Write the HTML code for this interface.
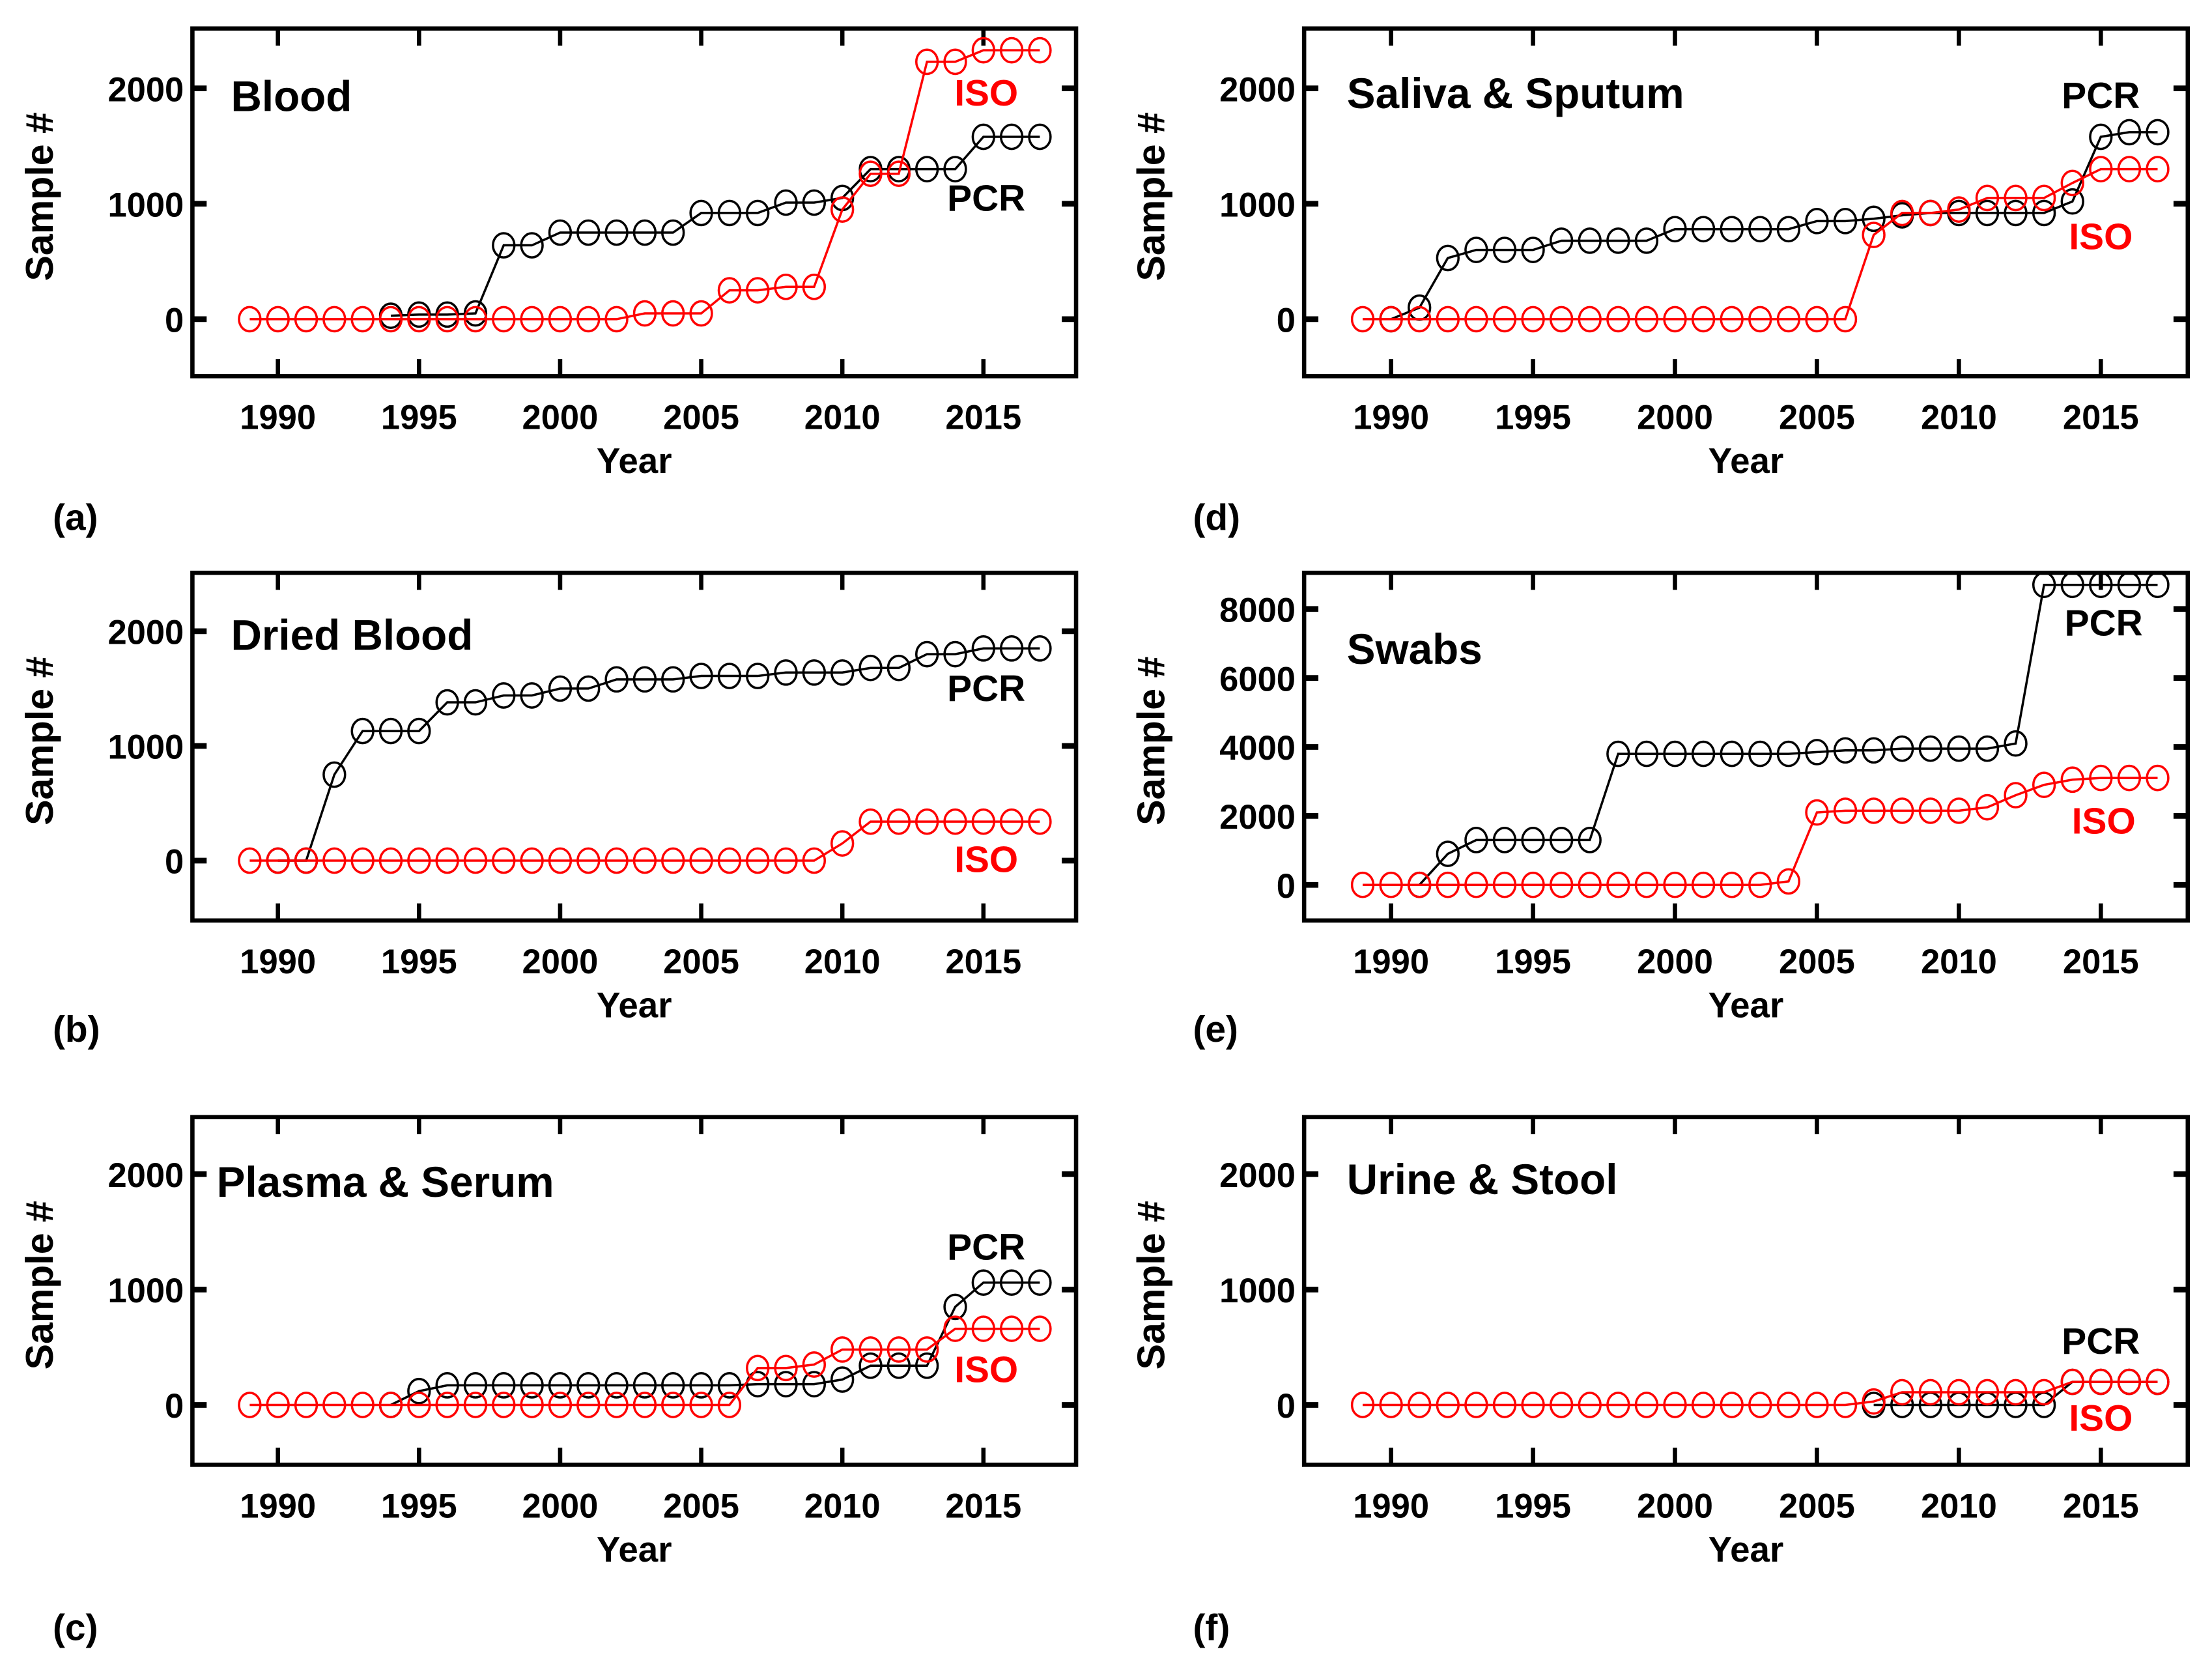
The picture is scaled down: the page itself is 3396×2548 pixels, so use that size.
<!DOCTYPE html>
<html><head><meta charset="utf-8"><style>
html,body{margin:0;padding:0;background:#fff;}
svg{display:block;font-family:"Liberation Sans",Arial,sans-serif;font-weight:bold;}
</style></head><body>
<svg id="fig" width="3396" height="2548" viewBox="0 0 1552 1165" preserveAspectRatio="none" xmlns="http://www.w3.org/2000/svg"></svg>
<script>
const years = [1989,1990,1991,1992,1993,1994,1995,1996,1997,1998,1999,2000,2001,2002,2003,2004,2005,2006,2007,2008,2009,2010,2011,2012,2013,2014,2015,2016,2017];
const N = null;
const bloodPCR = [N,N,N,N,N,30,40,40,50,640,640,750,750,750,750,750,920,920,920,1010,1010,1050,1300,1300,1300,1300,1580,1580,1580];
const bloodISO = [0,0,0,0,0,0,0,0,0,0,0,0,0,0,50,50,50,250,250,280,280,950,1260,1260,2230,2230,2330,2330,2330];
const driedPCR = [N,0,0,750,1130,1130,1130,1380,1380,1440,1440,1500,1500,1580,1580,1580,1610,1610,1610,1640,1640,1640,1680,1680,1800,1800,1850,1850,1850];
const driedISO = [0,0,0,0,0,0,0,0,0,0,0,0,0,0,0,0,0,0,0,0,0,150,340,340,340,340,340,340,340];
const plasmaPCR = [N,N,N,N,N,0,120,170,170,170,170,170,170,170,170,170,170,170,180,180,180,220,340,340,340,850,1060,1060,1060];
const plasmaISO = [0,0,0,0,0,0,0,0,0,0,0,0,0,0,0,0,0,0,320,320,350,480,480,480,480,660,660,660,660];
const salivaPCR = [N,0,100,530,600,600,600,680,680,680,680,780,780,780,780,780,850,850,870,900,920,920,920,920,920,1020,1580,1620,1620];
const salivaISO = [0,0,0,0,0,0,0,0,0,0,0,0,0,0,0,0,0,0,730,920,920,950,1050,1050,1050,1180,1300,1300,1300];
const swabsPCR = [N,N,0,900,1300,1300,1300,1300,1300,3800,3800,3800,3800,3800,3800,3800,3850,3900,3900,3950,3950,3950,3950,4100,8700,8700,8700,8700,8700];
const swabsISO = [0,0,0,0,0,0,0,0,0,0,0,0,0,0,0,100,2100,2150,2150,2150,2150,2150,2250,2600,2900,3050,3100,3100,3100];
const urinePCR = [N,N,N,N,N,N,N,N,N,N,N,N,N,N,N,N,N,N,0,0,0,0,0,0,0,200,200,200,200];
const urineISO = [0,0,0,0,0,0,0,0,0,0,0,0,0,0,0,0,0,0,30,110,110,110,110,110,110,200,200,200,200];
const xTicks = [1990,1995,2000,2005,2010,2015];
const yTicksStd = [0,1000,2000];
const yTicksSwab = [0,2000,4000,6000,8000];

const svg = document.getElementById('fig');
const NS = 'http://www.w3.org/2000/svg';
function mk(tag, attrs, parent){const e=document.createElementNS(NS,tag);for(const k in attrs)e.setAttribute(k,attrs[k]);(parent||svg).appendChild(e);return e;}

const panels = [
 {id:'a',title:'Blood',L:135,T:20,x0:195,y0:224,pxY:0.081,pcr:bloodPCR,iso:bloodISO,yt:yTicksStd,tx:162,ty:78,pcrL:[692,148],isoL:[692,74],lab:[37,372]},
 {id:'b',title:'Dried Blood',L:135,T:402,x0:195,y0:604,pxY:0.0805,pcr:driedPCR,iso:driedISO,yt:yTicksStd,tx:162,ty:456,pcrL:[692,492],isoL:[692,612],lab:[37,731]},
 {id:'c',title:'Plasma & Serum',L:135,T:784,x0:195,y0:986,pxY:0.081,pcr:plasmaPCR,iso:plasmaISO,yt:yTicksStd,tx:152,ty:840,pcrL:[692,884],isoL:[692,970],lab:[37,1151]},
 {id:'d',title:'Saliva & Sputum',L:915,T:20,x0:976,y0:224,pxY:0.081,pcr:salivaPCR,iso:salivaISO,yt:yTicksStd,tx:945,ty:76,pcrL:[1474,76],isoL:[1474,175],lab:[837,372]},
 {id:'e',title:'Swabs',L:915,T:402,x0:976,y0:621,pxY:0.0242,pcr:swabsPCR,iso:swabsISO,yt:yTicksSwab,tx:945,ty:466,pcrL:[1476,446],isoL:[1476,585],lab:[837,731]},
 {id:'f',title:'Urine & Stool',L:915,T:784,x0:976,y0:986,pxY:0.081,pcr:urinePCR,iso:urineISO,yt:yTicksStd,tx:945,ty:838,pcrL:[1474,950],isoL:[1474,1004],lab:[837,1151]}
];
const W=620,H=244;
panels.forEach(p=>{
  const g=mk('g',{});
  
  
  const step=(p.id==='d'||p.id==='e'||p.id==='f')?19.92:19.8;
  const X=y=>p.x0+(y-1990)*step;
  const Y=v=>p.y0-v*p.pxY;
  const fr=mk('rect',{x:p.L,y:p.T,width:W,height:H,fill:'none',stroke:'#000','stroke-width':3},g);
  
  
  xTicks.forEach(t=>{
    mk('line',{x1:X(t),x2:X(t),y1:p.T,y2:p.T+12,stroke:'#000','stroke-width':3},g);
    mk('line',{x1:X(t),x2:X(t),y1:p.T+H,y2:p.T+H-12,stroke:'#000','stroke-width':3},g);
    const tl=mk('text',{x:X(t),y:p.T+H+37,'font-size':24,'text-anchor':'middle'},g);
    tl.textContent=t;
    
    
  });
  p.yt.forEach(t=>{
    mk('line',{x1:p.L,x2:p.L+10,y1:Y(t),y2:Y(t),stroke:'#000','stroke-width':4},g);
    mk('line',{x1:p.L+W,x2:p.L+W-10,y1:Y(t),y2:Y(t),stroke:'#000','stroke-width':4},g);
    const tl=mk('text',{x:p.L-6,y:Y(t)+9,'font-size':24,'text-anchor':'end'},g);
    tl.textContent=t;
    
    
  });
  const xt=mk('text',{x:p.L+310,y:p.T+H+68,'font-size':25,'text-anchor':'middle'},g);
  xt.textContent='Year';
  
  
  const yx=p.L-98, yy=p.T+H/2-4;
  const yt=mk('text',{x:yx,y:yy,'font-size':27,'text-anchor':'middle',transform:`rotate(-90 ${yx} ${yy})`},g);
  yt.textContent='Sample #';
  
  
  const ti=mk('text',{x:p.tx,y:p.ty,'font-size':30},g);
  ti.textContent=p.title;
  
  
  const lb=mk('text',{x:p.lab[0],y:p.lab[1],'font-size':26},g);
  lb.textContent='('+p.id+')';
  
  
  [[p.pcr,'#000','pcr'],[p.iso,'#f00','iso']].forEach(([arr,col,nm])=>{
    let d='';
    arr.forEach((v,i)=>{if(v===null)return;d+=(d?'L':'M')+X(years[i])+','+Y(v);});
    const ln=mk('path',{d:d,fill:'none',stroke:col,'stroke-width':1.6},g);
    
    
    arr.forEach((v,i)=>{
      if(v===null)return;
      const c=mk('ellipse',{cx:X(years[i]),cy:Y(v),rx:7.5,ry:8.5,fill:'none',stroke:col,'stroke-width':1.6},g);
      
      
    });
  });
  const pl=mk('text',{x:p.pcrL[0],y:p.pcrL[1],'font-size':26,'text-anchor':'middle',fill:'#000'},g);
  pl.textContent='PCR';
  
  
  const il=mk('text',{x:p.isoL[0],y:p.isoL[1],'font-size':26,'text-anchor':'middle',fill:'#f00'},g);
  il.textContent='ISO';
  
  
});
</script>
</body></html>
